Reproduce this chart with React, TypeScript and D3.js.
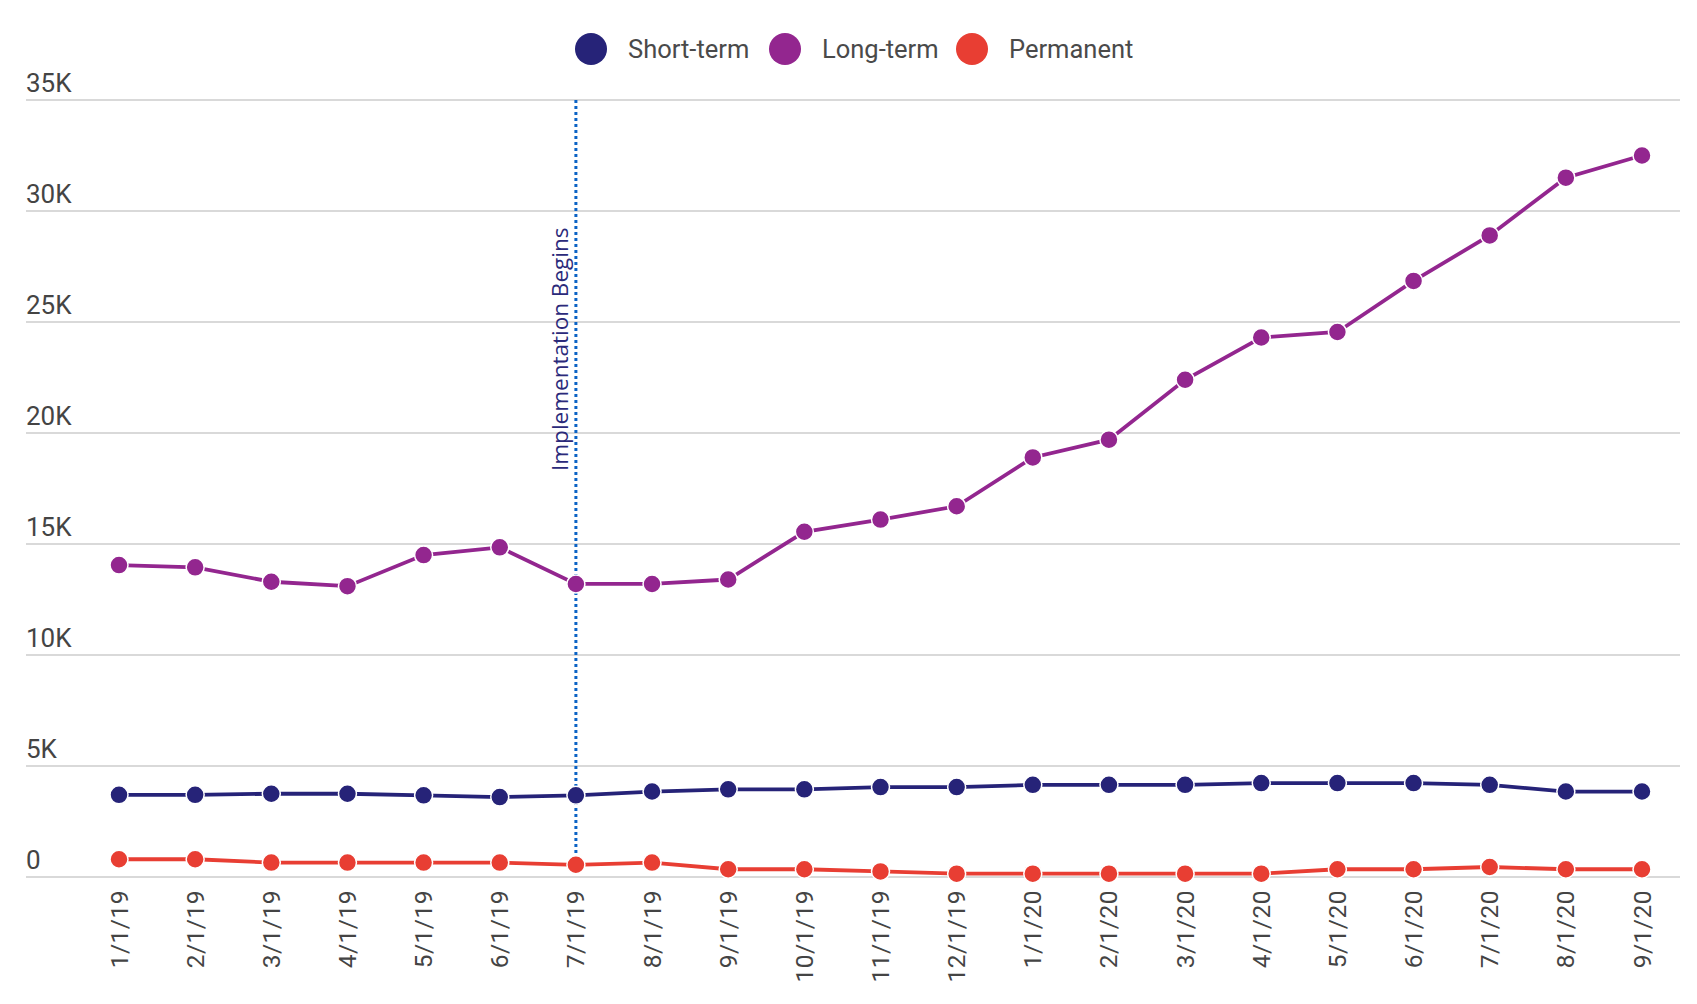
import React from "react";
import * as d3 from "d3";

const months = [
  "1/1/19", "2/1/19", "3/1/19", "4/1/19", "5/1/19", "6/1/19", "7/1/19",
  "8/1/19", "9/1/19", "10/1/19", "11/1/19", "12/1/19", "1/1/20", "2/1/20",
  "3/1/20", "4/1/20", "5/1/20", "6/1/20", "7/1/20", "8/1/20", "9/1/20",
];

const shortTerm = [
  3700, 3700, 3750, 3750, 3680, 3600, 3680, 3850, 3950, 3950, 4050,
  4050, 4150, 4150, 4150, 4230, 4230, 4230, 4150, 3850, 3850,
];

const longTerm = [
  14050, 13950, 13300, 13100, 14500, 14850, 13200, 13200, 13400, 15550, 16100,
  16700, 18900, 19700, 22400, 24300, 24550, 26850, 28900, 31500, 32500,
];

const permanent = [
  800, 800, 650, 650, 650, 650, 550, 650, 350, 350, 250,
  150, 150, 150, 150, 150, 350, 350, 450, 350, 350,
];

const yTicks = [0, 5000, 10000, 15000, 20000, 25000, 30000, 35000];
const markerMonth = "7/1/19";
const markerLabel = "Implementation Begins";

const series = [
  { name: "Short-term", color: "#262378", values: shortTerm },
  { name: "Long-term", color: "#93268f", values: longTerm },
  { name: "Permanent", color: "#e83e33", values: permanent },
];

const W = 1697;
const H = 1004;

export default function App() {
  const x = d3.scalePoint<string>().domain(months).range([119, 1642]);
  const y = d3.scaleLinear().domain([0, 35000]).range([877, 100]);
  const line = d3
    .line<number>()
    .x((_, i) => x(months[i]) as number)
    .y((d) => y(d));

  const fmt = (v: number) => (v === 0 ? "0" : `${v / 1000}K`);
  const legendX = [591, 785, 972];
  const mx = x(markerMonth) as number;

  return (
    <svg width={W} height={H} style={{ display: "block", position: "absolute", left: 0, top: 0 }}>
      <rect width={W} height={H} fill="#fff" />

      {/* grid + y labels */}
      {yTicks.map((t) => (
        <g key={t}>
          <line x1={26} x2={1680} y1={y(t)} y2={y(t)} stroke="#d9d9d9" strokeWidth={2} />
          <text x={26} y={y(t) - 8} fontFamily="Roboto" fontSize={26} fill="#444">
            {fmt(t)}
          </text>
        </g>
      ))}

      {/* x labels */}
      {months.map((m) => (
        <text
          key={m}
          transform={`translate(${(x(m) as number) + 8.5},890) rotate(-90)`}
          textAnchor="end"
          fontFamily="Roboto"
          fontSize={24.5}
          letterSpacing={0.5}
          fill="#444"
        >
          {m}
        </text>
      ))}

      {/* lines */}
      {series.map((s) => (
        <path key={s.name} d={line(s.values) ?? ""} fill="none" stroke={s.color} strokeWidth={3.8} />
      ))}

      {/* implementation marker */}
      <line x1={mx} x2={mx} y1={100} y2={866} stroke="#0b63c5" strokeWidth={3} strokeDasharray="3,3" />
      <text
        transform={`translate(${mx - 8},471) rotate(-90)`}
        fontFamily="Open Sans"
        fontSize={22.5}
        fontWeight={500}
        fill="#2b2a7a"
      >
        {markerLabel}
      </text>

      {/* points */}
      {series.map((s) =>
        s.values.map((v, i) => (
          <circle
            key={`${s.name}-${i}`}
            cx={x(months[i]) as number}
            cy={y(v)}
            r={9}
            fill={s.color}
            stroke="#fff"
            strokeWidth={1.5}
          />
        ))
      )}

      {/* legend */}
      {series.map((s, i) => (
        <g key={s.name}>
          <circle cx={legendX[i]} cy={49} r={16} fill={s.color} />
          <text x={legendX[i] + 37} y={57.5} fontFamily="Roboto" fontSize={25.5} fill="#4a4a4a">
            {s.name}
          </text>
        </g>
      ))}
    </svg>
  );
}
